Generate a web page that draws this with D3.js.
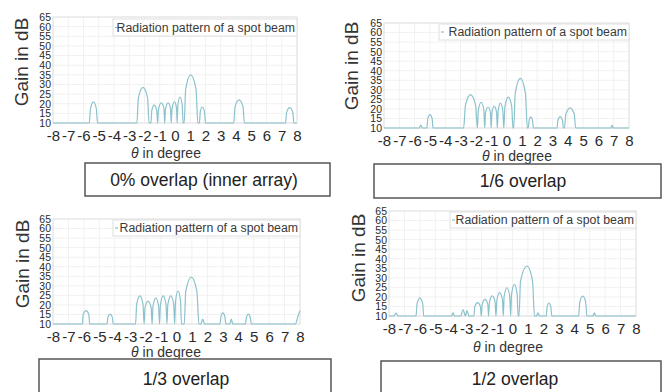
<!DOCTYPE html>
<html>
<head>
<meta charset="utf-8">
<script src="https://cdn.jsdelivr.net/npm/d3@7"></script>
<style>
  html, body { margin: 0; padding: 0; background: #fff; }
  svg { display: block; font-family: "Liberation Sans", Arial, sans-serif; }
</style>
</head>
<body>
<svg id="chart" width="662" height="392"></svg>
<script>
// ---- data -------------------------------------------------------------
const thetaTicks = [-8, -7, -6, -5, -4, -3, -2, -1, 0, 1, 2, 3, 4, 5, 6, 7, 8];
const gainTicks = [10, 15, 20, 25, 30, 35, 40, 45, 50, 55, 60, 65];
const captions = ["0% overlap (inner array)", "1/6 overlap", "1/3 overlap", "1/2 overlap"];
const legendLabel = "Radiation pattern of a spot beam";

// gain in dB against theta in degrees, floor at 10 dB
const patternOverlap0 = [
  [-8, 10], [-5.62, 10], [-5.54, 17.5], [-5.35, 21], [-5.16, 17.5], [-5.08, 10],
  [-2.5, 10], [-2.4, 23], [-2.1, 28.5], [-1.8, 23], [-1.7, 10],
  [-1.58, 10], [-1.52, 16.5], [-1.36, 19.3], [-1.2, 16.5], [-1.14, 10],
  [-1.08, 17.3], [-0.9, 20.4], [-0.72, 17.3], [-0.68, 10],
  [-0.62, 17.3], [-0.45, 20.4], [-0.29, 17.3], [-0.25, 10],
  [-0.19, 17.7], [-0.03, 21], [0.1, 17.7], [0.14, 10],
  [0.19, 19.5], [0.33, 23.5], [0.47, 19.5], [0.53, 10],
  [0.6, 10], [0.7, 27.5], [1.03, 35], [1.38, 27.5], [1.5, 10],
  [1.6, 10], [1.66, 16], [1.78, 18.3], [1.93, 16], [2.0, 10],
  [3.85, 10], [3.94, 18.5], [4.2, 22], [4.46, 18.5], [4.55, 10],
  [7.25, 10], [7.32, 15.5], [7.52, 18], [7.72, 15.5], [7.8, 10], [8, 10]
];
const patternOverlap1_6 = [
  [-8, 10], [-5.7, 10], [-5.6, 11.5], [-5.5, 10],
  [-5.2, 10], [-5.14, 15], [-5.0, 17], [-4.86, 15], [-4.8, 10],
  [-2.8, 10], [-2.68, 22], [-2.35, 27.5], [-2.02, 22], [-1.9, 10],
  [-1.84, 19.5], [-1.65, 23.5], [-1.48, 19.5], [-1.42, 10],
  [-1.37, 18], [-1.2, 21], [-1.05, 18], [-1.0, 10],
  [-0.95, 18.3], [-0.8, 21.5], [-0.65, 18.3], [-0.6, 10],
  [-0.54, 19.1], [-0.4, 23], [-0.24, 19.1], [-0.18, 10],
  [-0.1, 21.3], [0.12, 26.2], [0.34, 21.3], [0.42, 10],
  [0.47, 10], [0.57, 28], [0.9, 36], [1.24, 28], [1.36, 10],
  [1.42, 10], [1.48, 14], [1.58, 15.8], [1.7, 14], [1.76, 10],
  [3.3, 10], [3.36, 14.2], [3.5, 16], [3.65, 14.2], [3.72, 10],
  [3.78, 10], [3.88, 17.3], [4.15, 20.5], [4.42, 17.3], [4.52, 10],
  [6.82, 10], [6.9, 11.5], [6.98, 10], [8, 10]
];
const patternOverlap1_3 = [
  [-8, 10], [-6.1, 10], [-6.04, 15], [-5.86, 17], [-5.68, 15], [-5.62, 10],
  [-4.5, 10], [-4.44, 13.6], [-4.3, 15.2], [-4.16, 13.6], [-4.1, 10],
  [-2.65, 10], [-2.58, 20.3], [-2.37, 24.7], [-2.17, 20.3], [-2.1, 10],
  [-2.04, 18.4], [-1.84, 22], [-1.64, 18.4], [-1.58, 10],
  [-1.52, 19.5], [-1.34, 23.6], [-1.16, 19.5], [-1.1, 10],
  [-1.04, 20.3], [-0.86, 24.7], [-0.68, 20.3], [-0.62, 10],
  [-0.56, 20.3], [-0.37, 24.7], [-0.18, 20.3], [-0.12, 10],
  [-0.06, 22.1], [0.1, 27.3], [0.26, 22.1], [0.32, 10],
  [0.5, 10], [0.6, 27.2], [0.96, 34.6], [1.32, 27.2], [1.45, 10],
  [1.58, 10], [1.7, 12.6], [1.82, 10],
  [2.82, 10], [2.88, 14], [3.0, 15.8], [3.13, 14], [3.2, 10],
  [3.45, 10], [3.55, 12.6], [3.65, 10],
  [4.47, 10], [4.53, 13.6], [4.65, 15.2], [4.78, 13.6], [4.85, 10],
  [7.7, 10], [7.85, 13.5], [8, 17]
];
const patternOverlap1_2 = [
  [-8, 10], [-7.68, 10], [-7.55, 11.5], [-7.42, 10],
  [-6.25, 10], [-6.18, 16.6], [-6.0, 19.4], [-5.82, 16.6], [-5.75, 10],
  [-3.95, 10], [-3.85, 11.6], [-3.75, 10],
  [-3.35, 10], [-3.2, 13.4], [-3.05, 10], [-2.95, 12.8], [-2.82, 10],
  [-2.5, 10], [-2.44, 15], [-2.26, 17], [-2.08, 15], [-2.02, 10],
  [-1.96, 16.1], [-1.78, 18.7], [-1.6, 16.1], [-1.55, 10],
  [-1.49, 17.4], [-1.31, 20.5], [-1.13, 17.4], [-1.07, 10],
  [-1.01, 18.5], [-0.83, 22.2], [-0.65, 18.5], [-0.6, 10],
  [-0.54, 20.4], [-0.36, 24.8], [-0.18, 20.4], [-0.12, 10],
  [-0.06, 21.6], [0.12, 26.6], [0.3, 21.6], [0.36, 10],
  [0.42, 10], [0.52, 28.3], [0.94, 36.2], [1.3, 28.3], [1.42, 10],
  [1.55, 10], [1.65, 11.6], [1.75, 10],
  [2.18, 10], [2.24, 14.8], [2.36, 16.8], [2.48, 14.8], [2.55, 10],
  [4.28, 10], [4.36, 17.3], [4.55, 20.4], [4.74, 17.3], [4.82, 10],
  [5.2, 10], [5.3, 11.6], [5.4, 10], [8, 10]
];
const patterns = [patternOverlap0, patternOverlap1_6, patternOverlap1_3, patternOverlap1_2];

// ---- layout of the four sub-figures ----------------------------------
const layouts = [
  { plot: [53, 297, 17, 123], ylab: [21, 62], xlab: [166, 158], box: [85, 163, 245, 33], cap: [204, 186], legend: [113, 19, 184, 17] },
  { plot: [384, 629, 23, 128], ylab: [351, 66], xlab: [517, 161], box: [374, 164, 287, 34], cap: [523, 187], legend: [439, 24, 190, 16] },
  { plot: [53, 300, 219, 324], ylab: [22, 264], xlab: [166, 357], box: [39, 359, 292, 40], cap: [186, 385], legend: [113, 220, 187, 16] },
  { plot: [389, 636, 211, 316], ylab: [358, 258], xlab: [508, 352], box: [381, 361, 280, 38], cap: [515, 385], legend: [450, 212, 186, 16] }
];

const svg = d3.select("#chart");
const lineColor = "#8cc2cc";
// plain hyphen for negative tick values
const tickText = d => String(d);

layouts.forEach((L, i) => {
  const [x0, x1, y0, y1] = L.plot;
  const x = d3.scaleLinear().domain([-8, 8]).range([x0, x1]);
  const y = d3.scaleLinear().domain([10, 65]).range([y1, y0]);
  const g = svg.append("g");

  // faint grid
  g.append("g").selectAll("line").data(thetaTicks).join("line")
    .attr("x1", d => x(d)).attr("x2", d => x(d)).attr("y1", y0).attr("y2", y1)
    .attr("stroke", "#f1f1f1").attr("stroke-width", 1);
  g.append("g").selectAll("line").data(gainTicks).join("line")
    .attr("x1", x0).attr("x2", x1).attr("y1", d => y(d)).attr("y2", d => y(d))
    .attr("stroke", "#f1f1f1").attr("stroke-width", 1);

  // frame
  g.append("rect").attr("x", x0).attr("y", y0).attr("width", x1 - x0).attr("height", y1 - y0)
    .attr("fill", "none").attr("stroke", "#e2e2e2").attr("stroke-width", 1);

  // axes
  const xAxis = d3.axisBottom(x).tickValues(thetaTicks).tickFormat(tickText).tickSize(0).tickPadding(7);
  const gx = g.append("g").attr("transform", `translate(0,${y1})`).call(xAxis);
  gx.select(".domain").remove();
  gx.selectAll("text").attr("font-size", 15).attr("fill", "#2a2a2a")
    .attr("font-family", "Liberation Sans, Arial, sans-serif");

  const yAxis = d3.axisLeft(y).tickValues(gainTicks).tickFormat(tickText).tickSize(0).tickPadding(2);
  const gy = g.append("g").attr("transform", `translate(${x0},0)`).call(yAxis);
  gy.select(".domain").remove();
  gy.selectAll("text").attr("font-size", 10.5).attr("fill", "#2a2a2a")
    .attr("font-family", "Liberation Sans, Arial, sans-serif");

  // axis titles
  g.append("text").attr("transform", `translate(${L.ylab[0]},${L.ylab[1]}) rotate(-90)`)
    .attr("text-anchor", "middle").attr("dominant-baseline", "central")
    .attr("font-size", 19).attr("fill", "#333").text("Gain in dB");
  const xt = g.append("text").attr("x", L.xlab[0]).attr("y", L.xlab[1])
    .attr("text-anchor", "middle").attr("font-size", 14).attr("fill", "#333");
  xt.append("tspan").attr("font-style", "italic").text("θ");
  xt.append("tspan").text(" in degree");

  // radiation pattern
  const line = d3.line().x(d => x(d[0])).y(d => y(d[1])).curve(d3.curveMonotoneX);
  g.append("path").datum(patterns[i]).attr("d", line)
    .attr("fill", "none").attr("stroke", lineColor).attr("stroke-width", 1.2);

  // legend
  const [lx, ly, lw, lh] = L.legend;
  g.append("rect").attr("x", lx).attr("y", ly).attr("width", lw).attr("height", lh)
    .attr("fill", "#fff").attr("stroke", "#e0e0e0").attr("stroke-width", 1);
  g.append("line").attr("x1", lx + 2).attr("x2", lx + 5).attr("y1", ly + lh / 2).attr("y2", ly + lh / 2)
    .attr("stroke", lineColor).attr("stroke-width", 1.2);
  g.append("text").attr("x", lx + lw - 2).attr("y", ly + lh / 2)
    .attr("text-anchor", "end").attr("dominant-baseline", "central")
    .attr("font-size", 12.3).attr("fill", "#3a3a3a").text(legendLabel);

  // caption box
  const [bx, by, bw, bh] = L.box;
  g.append("rect").attr("x", bx).attr("y", by).attr("width", bw).attr("height", bh)
    .attr("fill", "#fff").attr("stroke", "#555").attr("stroke-width", 1.5);
  g.append("text").attr("x", L.cap[0]).attr("y", L.cap[1]).attr("text-anchor", "middle")
    .attr("font-size", 17.5).attr("fill", "#222").text(captions[i]);
});
</script>
</body>
</html>
